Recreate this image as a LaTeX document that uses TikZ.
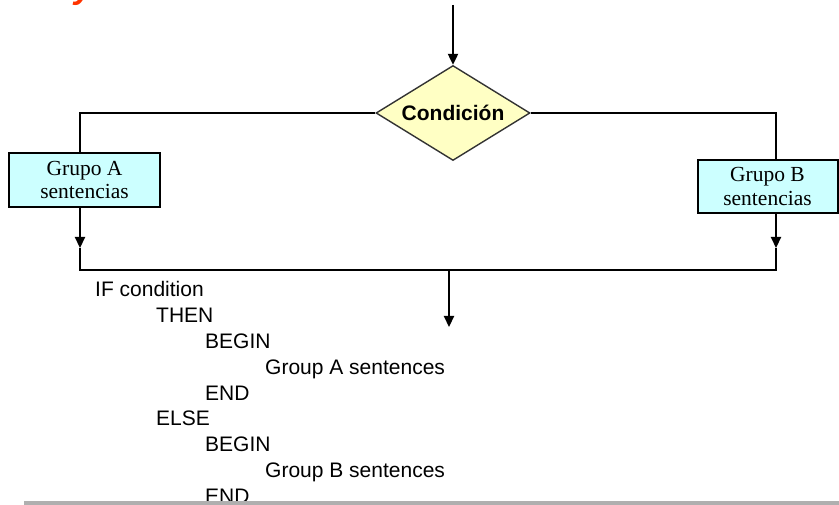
\documentclass[tikz,border=0pt]{standalone}
\usepackage{fontspec}
\setmainfont{Liberation Serif}
\setsansfont{Liberation Sans}
\usetikzlibrary{shapes.geometric,arrows.meta}
\definecolor{cyanbox}{HTML}{CCFFFF}
\definecolor{yellowbox}{HTML}{FFFFC4}
\definecolor{titleorange}{HTML}{FF3300}
\definecolor{rulegray}{HTML}{AFAFAF}
\begin{document}
\begin{tikzpicture}[x=1pt,y=-1pt,
  line/.style={line width=2.2pt},
  flow/.style={line, -{Triangle[length=11pt,width=10pt]}},
  grupo/.style={draw, line width=2pt, fill=cyanbox, inner sep=0pt,
    align=center, font=\fontsize{21.5}{23.5}\selectfont},
  decision/.style={diamond, aspect=1.62, draw=black!80, line width=1.4pt, fill=yellowbox,
    inner sep=0pt, minimum width=154pt, minimum height=95pt,
    font=\sffamily\bfseries\fontsize{21}{24}\selectfont},
  codigo/.style={anchor=base west, inner sep=0pt,
    font=\sffamily\fontsize{21}{24}\selectfont},
]
\clip (0,0) rectangle (839,505);

% tail of the heading above
\node[anchor=base west, inner sep=0pt, text=titleorange,
  font=\sffamily\bfseries\itshape\fontsize{34}{40}\selectfont] (titulo) at (74,-1.5) {y};

% decision and the two branches
\coordinate (entrada) at (453,5);
\node[decision] (cond) at (453,113) {Condición};
\node[grupo, minimum width=151pt, minimum height=54pt] (grupoA) at (84.5,180) {Grupo A\\sentencias};
\node[grupo, minimum width=140pt, minimum height=53pt] (grupoB) at (767.5,186.5) {Grupo B\\sentencias};

\coordinate (izqA) at (80,113);
\coordinate (derB) at (776,113);
\coordinate (puntaA) at (80,248);
\coordinate (puntaB) at (776,248);
\coordinate (unionA) at (80,270);
\coordinate (unionB) at (776,270);
\coordinate (union) at (449,270);
\coordinate (salida) at (449,327);

\draw[flow] (entrada) -- (cond.north);
\draw[line] (cond.west) -- (izqA) -- (izqA |- grupoA.north);
\draw[line] (cond.east) -- (derB) -- (derB |- grupoB.north);
\draw[flow] (puntaA |- grupoA.south) -- (puntaA);
\draw[flow] (puntaB |- grupoB.south) -- (puntaB);
\draw[line] (puntaA) -- (unionA) -- (unionB) -- (puntaB);
\draw[flow] (union) -- (salida);

% pseudocode
\node[codigo] (c1) at (95,297) {IF condition};
\node[codigo] (c2) at (156,322.75) {THEN};
\node[codigo] (c3) at (205,348.5) {BEGIN};
\node[codigo] (c4) at (265,374.25) {Group A sentences};
\node[codigo] (c5) at (205,400) {END};
\node[codigo] (c6) at (156,425.75) {ELSE};
\node[codigo] (c7) at (205,451.5) {BEGIN};
\node[codigo] (c8) at (265,477.25) {Group B sentences};
\node[codigo] (c9) at (205,503) {END};

% footer rule
\fill[rulegray] (24,501) rectangle (839,505);
\end{tikzpicture}
\end{document}
